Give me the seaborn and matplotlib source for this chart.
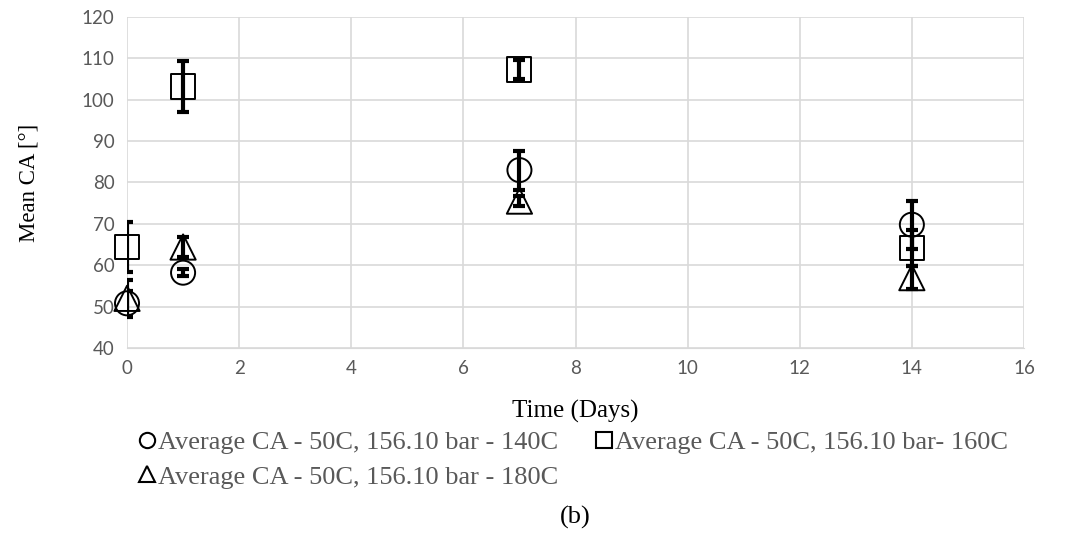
import matplotlib
matplotlib.use("Agg")
import matplotlib.pyplot as plt
from matplotlib.lines import Line2D
import seaborn as sns
import pandas as pd

# Contact-angle measurements over time
days = [0, 1, 7, 14]
ca_140 = [50.8, 58.2, 83.0, 69.8]
err_140 = [3.0, 0.8, 4.7, 5.8]
ca_160 = [64.4, 103.2, 107.3, 64.2]
err_160 = [6.0, 6.1, 2.3, 4.3]
ca_180 = [52.0, 64.4, 75.5, 57.0]
err_180 = [4.5, 2.5, 1.2, 2.7]

labels = [
    "Average CA - 50C, 156.10 bar - 140C",
    "Average CA - 50C, 156.10 bar- 160C",
    "Average CA - 50C, 156.10 bar - 180C",
]
x_ticks = [0, 2, 4, 6, 8, 10, 12, 14, 16]
y_ticks = [40, 50, 60, 70, 80, 90, 100, 110, 120]

series = [
    (labels[0], ca_140, err_140, "o"),
    (labels[1], ca_160, err_160, "s"),
    (labels[2], ca_180, err_180, "^"),
]

sns.set_style("white")
plt.rcParams["font.family"] = ["Lato", "DejaVu Sans"]

fig = plt.figure(figsize=(10.71, 5.44), dpi=100)
ax = fig.add_axes([0.1186, 0.3603, 0.8375, 0.6085])

for name, vals, errs, mk in series:
    df = pd.DataFrame({"day": days, "ca": vals})
    sns.scatterplot(data=df, x="day", y="ca", marker=mk,
                    s=300 if mk != "^" else 330,
                    facecolors="none", edgecolor="black", linewidth=1.4,
                    ax=ax, zorder=3, legend=False, clip_on=False)
    ax.errorbar(days, vals, yerr=errs, fmt="none", ecolor="black",
                elinewidth=3.0, capsize=4, capthick=3.0, zorder=4)

ax.set_xlim(0, 16)
ax.set_ylim(40, 120)
ax.set_xticks(x_ticks)
ax.set_yticks(y_ticks)
ax.grid(True, color="#d9d9d9", linewidth=1.2)
ax.set_axisbelow(True)
for side in ["top", "right", "left"]:
    ax.spines[side].set_visible(False)
ax.spines["bottom"].set_color("#d9d9d9")
ax.tick_params(axis="both", length=0, labelsize=13.5, colors="#595959", pad=9)

serif = ["Liberation Serif", "DejaVu Serif"]
ax.set_xlabel("Time (Days)", family=serif, fontsize=18, color="black", labelpad=16)
ax.set_ylabel("Mean CA [°]", family=serif, fontsize=16.5, color="black", labelpad=30)

mkw = dict(linestyle="none", markersize=11, markerfacecolor="none",
           markeredgecolor="black", markeredgewidth=1.5)
handles = [
    Line2D([], [], marker="o", **mkw),
    Line2D([], [], marker="^", **mkw),
    Line2D([], [], marker="s", **mkw),
]
leg = fig.legend(handles, [labels[0], labels[2], labels[1]], ncol=2,
                 loc="upper left", bbox_to_anchor=(0.106, 0.252),
                 frameon=False, handlelength=0.75, handletextpad=0.05,
                 columnspacing=1.35, labelspacing=0.42,
                 prop={"family": serif, "size": 19})
for t in leg.get_texts():
    t.set_color("#595959")

fig.text(0.537, 0.049, "(b)", family=serif, fontsize=19, color="black",
         ha="center", va="center")

fig.savefig("out.png", dpi=100)
